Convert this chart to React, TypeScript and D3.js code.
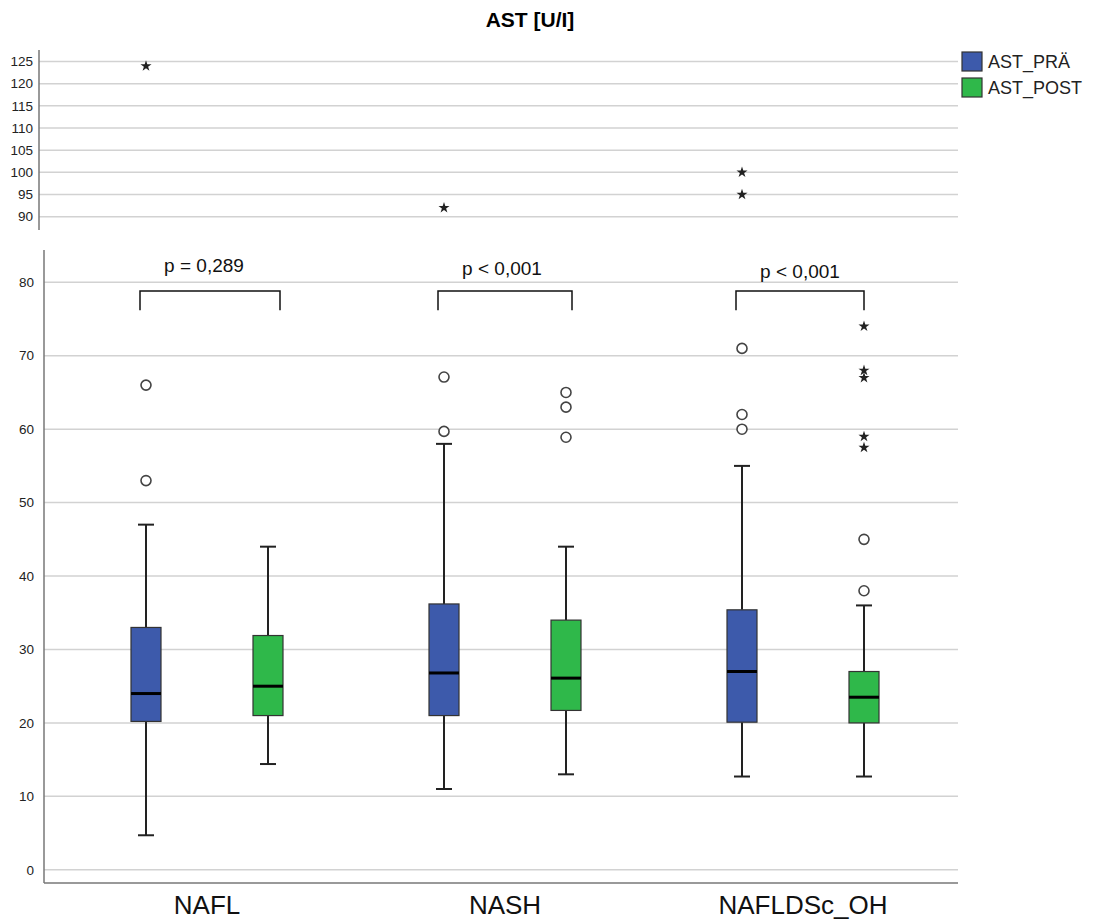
import React from "react";
import * as d3 from "d3";

const categories = ["NAFL", "NASH", "NAFLDSc_OH"];
const groups = ["AST_PRÄ", "AST_POST"];
const colors = ["#3d5aab", "#2fb84a"];

// box statistics per group, one value per category
const preLow = [4.7, 11.0, 12.7];
const preQ1 = [20.2, 21.0, 20.1];
const preMedian = [24.0, 26.8, 27.0];
const preQ3 = [33.0, 36.2, 35.4];
const preHigh = [47.0, 58.0, 55.0];

const postLow = [14.4, 13.0, 12.7];
const postQ1 = [21.0, 21.7, 20.0];
const postMedian = [25.0, 26.1, 23.5];
const postQ3 = [31.9, 34.0, 27.0];
const postHigh = [44.0, 44.0, 36.0];

// outliers: [category, group, value]
const circleOutliers: [string, string, number][] = [
  ["NAFL", "AST_PRÄ", 66],
  ["NAFL", "AST_PRÄ", 53],
  ["NASH", "AST_PRÄ", 67.1],
  ["NASH", "AST_PRÄ", 59.7],
  ["NASH", "AST_POST", 65],
  ["NASH", "AST_POST", 63],
  ["NASH", "AST_POST", 58.9],
  ["NAFLDSc_OH", "AST_PRÄ", 71],
  ["NAFLDSc_OH", "AST_PRÄ", 62],
  ["NAFLDSc_OH", "AST_PRÄ", 60],
  ["NAFLDSc_OH", "AST_POST", 45],
  ["NAFLDSc_OH", "AST_POST", 38],
];

const starOutliers: [string, string, number][] = [
  ["NAFLDSc_OH", "AST_POST", 74],
  ["NAFLDSc_OH", "AST_POST", 68],
  ["NAFLDSc_OH", "AST_POST", 67],
  ["NAFLDSc_OH", "AST_POST", 59],
  ["NAFLDSc_OH", "AST_POST", 57.5],
];

const upperStars: [string, string, number][] = [
  ["NAFL", "AST_PRÄ", 124],
  ["NASH", "AST_PRÄ", 92],
  ["NAFLDSc_OH", "AST_PRÄ", 100],
  ["NAFLDSc_OH", "AST_PRÄ", 95],
];

const pLabels = ["p = 0,289", "p < 0,001", "p < 0,001"];

const upperTicks = [90, 95, 100, 105, 110, 115, 120, 125];
const lowerTicks = [0, 10, 20, 30, 40, 50, 60, 70, 80];

const font = "Liberation Sans, Arial, sans-serif";

export default function App() {
  const width = 1110;
  const height = 921;
  const left = 44;
  const right = 958;

  const x = d3.scaleBand().domain(categories).range([58, 952]);
  const xg = d3.scalePoint().domain(groups).range([-61, 61]);
  const cx = (c: string, g: string) => (x(c) as number) + x.bandwidth() / 2 + (xg(g) as number);

  const yTop = d3.scaleLinear().domain([87, 127.6]).range([230, 50]);
  const yLow = d3.scaleLinear().domain([-1.8, 84.4]).range([883, 250]);

  const boxW = 30;
  const capW = 16;
  const star = d3.symbol().type(d3.symbolStar).size(38)() as string;

  const stats = [
    { low: preLow, q1: preQ1, med: preMedian, q3: preQ3, high: preHigh },
    { low: postLow, q1: postQ1, med: postMedian, q3: postQ3, high: postHigh },
  ];
  const bracketRight = [12, 6, 0];

  return (
    <svg width={width} height={height} style={{ display: "block", position: "absolute", left: 0, top: 0 }} fontFamily={font}>
      <rect width={width} height={height} fill="#fff" />
      <text x={530} y={27} textAnchor="middle" fontSize={21} fontWeight="bold">
        AST [U/I]
      </text>

      {/* upper panel */}
      {upperTicks.map((t) => (
        <g key={"ut" + t}>
          <line x1={39} x2={right} y1={yTop(t)} y2={yTop(t)} stroke="#d2d2d2" strokeWidth={1.5} />
          <text x={33} y={yTop(t)} dy="0.35em" textAnchor="end" fontSize={13.5} fill="#222">
            {t}
          </text>
        </g>
      ))}
      <line x1={39} x2={39} y1={50} y2={230} stroke="#777" strokeWidth={1.5} />
      {upperStars.map(([c, g, v], i) => (
        <path key={"us" + i} d={star} transform={`translate(${cx(c, g)},${yTop(v)})`} fill="#222" />
      ))}

      {/* lower panel */}
      {lowerTicks.map((t) => (
        <g key={"lt" + t}>
          <line x1={left} x2={right} y1={yLow(t)} y2={yLow(t)} stroke="#d2d2d2" strokeWidth={1.5} />
          <text x={34} y={yLow(t)} dy="0.35em" textAnchor="end" fontSize={13.5} fill="#222">
            {t}
          </text>
        </g>
      ))}
      <line x1={left} x2={left} y1={250} y2={883} stroke="#777" strokeWidth={1.5} />
      <line x1={left} x2={right} y1={883} y2={883} stroke="#777" strokeWidth={1.5} />

      {categories.map((c, ci) => (
        <g key={c}>
          {groups.map((g, gi) => {
            const s = stats[gi];
            const px = cx(c, g);
            return (
              <g key={g}>
                <line x1={px} x2={px} y1={yLow(s.low[ci])} y2={yLow(s.q1[ci])} stroke="#222" strokeWidth={2} />
                <line x1={px} x2={px} y1={yLow(s.q3[ci])} y2={yLow(s.high[ci])} stroke="#222" strokeWidth={2} />
                <line x1={px - capW / 2} x2={px + capW / 2} y1={yLow(s.low[ci])} y2={yLow(s.low[ci])} stroke="#222" strokeWidth={2} />
                <line x1={px - capW / 2} x2={px + capW / 2} y1={yLow(s.high[ci])} y2={yLow(s.high[ci])} stroke="#222" strokeWidth={2} />
                <rect
                  x={px - boxW / 2}
                  y={yLow(s.q3[ci])}
                  width={boxW}
                  height={yLow(s.q1[ci]) - yLow(s.q3[ci])}
                  fill={colors[gi]}
                  stroke="#333"
                  strokeWidth={1.2}
                />
                <line x1={px - boxW / 2} x2={px + boxW / 2} y1={yLow(s.med[ci])} y2={yLow(s.med[ci])} stroke="#000" strokeWidth={3} />
              </g>
            );
          })}
          {/* significance bracket */}
          <path
            d={`M${cx(c, groups[0]) - 6},${yLow(76.2)}V${yLow(78.8)}H${cx(c, groups[1]) + bracketRight[ci]}V${yLow(76.2)}`}
            fill="none"
            stroke="#111"
            strokeWidth={1.5}
          />
          <text
            x={(cx(c, groups[0]) + cx(c, groups[1])) / 2 - 3}
            y={272 + ci * 3}
            textAnchor="middle"
            fontSize={19}
            fill="#111"
          >
            {pLabels[ci]}
          </text>
          <text x={(x(c) as number) + x.bandwidth() / 2} y={914} textAnchor="middle" fontSize={26} fill="#111">
            {c}
          </text>
        </g>
      ))}

      {circleOutliers.map(([c, g, v], i) => (
        <circle key={"co" + i} cx={cx(c, g)} cy={yLow(v)} r={5} fill="#fff" stroke="#444" strokeWidth={1.6} />
      ))}
      {starOutliers.map(([c, g, v], i) => (
        <path key={"so" + i} d={star} transform={`translate(${cx(c, g)},${yLow(v)})`} fill="#222" />
      ))}

      {/* legend */}
      {groups.map((g, i) => (
        <g key={"lg" + g} transform={`translate(962,${52 + i * 26})`}>
          <rect width={20} height={19} fill={colors[i]} stroke="#333" strokeWidth={1.2} />
          <text x={26} y={10} dy="0.35em" fontSize={18} fill="#222">
            {g}
          </text>
        </g>
      ))}
    </svg>
  );
}
